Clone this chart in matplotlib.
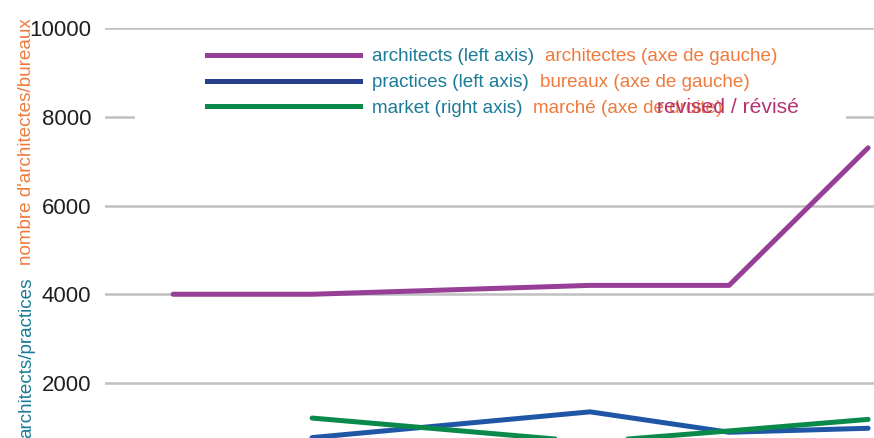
import matplotlib

matplotlib.use("Agg")
import matplotlib.pyplot as plt
import numpy as np
from matplotlib.lines import Line2D
from matplotlib.patches import Rectangle

plt.rcParams["font.family"] = ["Liberation Sans", "DejaVu Sans"]

# data (x = period index; period 2 has no observation)
periods = [0, 1, 3, 4, 5]
architects = [4000, 4000, 4200, 4200, 7300]
practices = [np.nan, 770, 1350, 890, 980]
market = [np.nan, 1210, 670, 920, 1180]  # right axis, read in left-axis units

y_ticks = [2000, 4000, 6000, 8000, 10000]
labels_en = ["architects (left axis)", "practices (left axis)", "market (right axis)"]
labels_fr = ["architectes (axe de gauche)", "bureaux (axe de gauche)", "marché (axe de droite)"]
ylabel_en = "architects/practices"
ylabel_fr = "nombre d'architectes/bureaux"
revised_note = "revised / révisé"

TEAL = "#1c7b96"
ORANGE = "#f07a3c"
PURPLE = "#973e96"
BLUE = "#1f57a6"
BLUE_LEG = "#283f8d"
GREEN = "#0a8a4a"
GRID = "#c0c0c2"
MAGENTA = "#b5346f"

W, H = 874, 438
fig = plt.figure(figsize=(W / 100, H / 100), dpi=100)
ax = fig.add_axes([105 / W, (H - 471.75) / H, 832.6 / W, 443.75 / H])

ax.plot(periods, architects, color=PURPLE, lw=3.6, solid_capstyle="round", zorder=3)
ax.plot(periods, practices, color=BLUE, lw=3.6, solid_capstyle="round", zorder=3)

ax2 = ax.twinx()
ax2.plot(periods, market, color=GREEN, lw=3.6, solid_capstyle="round", zorder=3)

ax.set_xlim(-0.49, 5.5)
ax.set_ylim(0, 10000)
ax2.set_ylim(ax.get_ylim())
ax2.set_axis_off()

ax.set_yticks(y_ticks)
ax.set_yticklabels([str(v) for v in y_ticks], fontsize=16, color="#231f20")
ax.tick_params(axis="y", length=0, pad=10)
ax.tick_params(axis="x", length=0, labelbottom=False)
ax.set_axisbelow(True)
ax.grid(axis="y", color=GRID, lw=1.8)
for s in ax.spines.values():
    s.set_visible(False)

# white legend backdrop hiding the grid
ax.add_patch(Rectangle((135 / W, 1 - 128 / H), (846 - 135) / W, 88 / H,
                       transform=fig.transFigure, facecolor="white",
                       edgecolor="none", zorder=1, clip_on=False))

handles = [
    Line2D([0], [0], color=PURPLE, lw=3.6),
    Line2D([0], [0], color=BLUE_LEG, lw=3.6),
    Line2D([0], [0], color=GREEN, lw=3.6),
]
leg = fig.legend(handles, labels_en, loc="upper left",
                 bbox_to_anchor=(207 / W, 1 - 48 / H), frameon=False,
                 borderpad=0, borderaxespad=0, handlelength=8.1,
                 handletextpad=0.63, labelspacing=0.46,
                 prop={"size": 13.6})
for t in leg.get_texts():
    t.set_color(TEAL)

# French labels follow each English legend label
fig.canvas.draw()
inv = fig.transFigure.inverted()
for t, fr in zip(leg.get_texts(), labels_fr):
    bb = t.get_window_extent()
    x0, y0 = inv.transform((bb.x1 + 11, bb.y0))
    fig.text(x0, y0, fr, fontsize=13.6, color=ORANGE, ha="left", va="bottom")

fig.text(657 / W, 1 - 113 / H, revised_note, fontsize=15.2, color=MAGENTA,
         ha="left", va="baseline")

fig.text(27 / W, 1 - 277 / H, ylabel_en, rotation=90, fontsize=13.6,
         color=TEAL, ha="center", va="top")
fig.text(27 / W, 1 - 265 / H, ylabel_fr, rotation=90, fontsize=13.6,
         color=ORANGE, ha="center", va="bottom")

fig.savefig("out.png", dpi=100)
